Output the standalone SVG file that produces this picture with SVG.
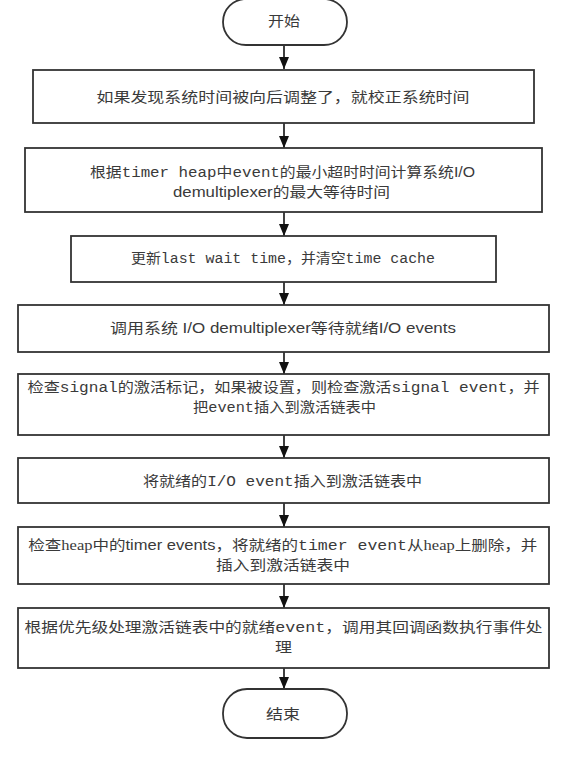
<svg xmlns="http://www.w3.org/2000/svg" width="579" height="758" viewBox="0 0 579 758">
<defs>
<marker id="ah" viewBox="0 0 12 10" refX="12" refY="5" markerWidth="12" markerHeight="10" markerUnits="userSpaceOnUse" orient="auto">
<path d="M0,0 L12,5 L0,10 z" fill="#111"/>
</marker>
</defs>
<style>
.bg{fill:#ffffff}
.box{fill:#ffffff;stroke:#333333;stroke-width:1.8}
.t{font-family:"Liberation Mono","Noto Sans CJK SC",monospace;font-size:14px;fill:#3a3a3a}
.a{font-family:"Liberation Sans","Noto Sans CJK SC",sans-serif}
.s{font-family:"Liberation Serif","Noto Sans CJK SC",serif}
.c{stroke:#111;stroke-width:1.6;fill:none;marker-end:url(#ah)}
</style>
<rect class="bg" x="0" y="0" width="579" height="758"/>
<g id="connectors">
<line class="c" x1="284" y1="45" x2="284" y2="69"/>
<line class="c" x1="284" y1="123" x2="284" y2="148"/>
<line class="c" x1="284" y1="212" x2="284" y2="236"/>
<line class="c" x1="284" y1="282" x2="284" y2="305"/>
<line class="c" x1="284" y1="352" x2="284" y2="374"/>
<line class="c" x1="284" y1="435" x2="284" y2="458"/>
<line class="c" x1="284" y1="503" x2="284" y2="527"/>
<line class="c" x1="284" y1="584" x2="284" y2="608"/>
<line class="c" x1="284" y1="668" x2="284" y2="689"/>
</g>
<g id="start">
<rect class="box" x="223" y="-1" width="124" height="46" rx="23" ry="23"/>
<text class="t" x="268" y="26" textLength="32" lengthAdjust="spacingAndGlyphs">开始</text>
</g>
<g id="n1">
<rect class="box" x="33" y="70" width="501" height="53"/>
<text class="t" x="96.5" y="102" textLength="373" lengthAdjust="spacingAndGlyphs">如果发现系统时间被向后调整了，就校正系统时间</text>
</g>
<g id="n2">
<rect class="box" x="25" y="148" width="517" height="64"/>
<text class="t" x="90" y="177" textLength="385" lengthAdjust="spacingAndGlyphs">根据timer heap中event的最小超时时间计算系统<tspan class="a">I/O</tspan></text>
<text class="t" x="173" y="197" textLength="217" lengthAdjust="spacingAndGlyphs"><tspan class="a">demultiplexer</tspan>的最大等待时间</text>
</g>
<g id="n3">
<rect class="box" x="71" y="236" width="425" height="46"/>
<text class="t" x="131" y="263" textLength="304" lengthAdjust="spacingAndGlyphs">更新last wait time，并清空time cache</text>
</g>
<g id="n4">
<rect class="box" x="18" y="305" width="531" height="47"/>
<text class="t a" x="110" y="333" textLength="346" lengthAdjust="spacingAndGlyphs">调用系统 I/O demultiplexer等待就绪I/O events</text>
</g>
<g id="n5">
<rect class="box" x="18" y="374" width="531" height="61"/>
<text class="t" x="27.6" y="392" textLength="512" lengthAdjust="spacingAndGlyphs">检查signal的激活标记，如果被设置，则检查激活signal event，并</text>
<text class="t" x="193" y="412" textLength="183" lengthAdjust="spacingAndGlyphs">把event插入到激活链表中</text>
</g>
<g id="n6">
<rect class="box" x="18" y="458" width="531" height="45"/>
<text class="t" x="143" y="486" textLength="279" lengthAdjust="spacingAndGlyphs">将就绪的I/O event插入到激活链表中</text>
</g>
<g id="n7">
<rect class="box" x="18" y="527" width="531" height="57"/>
<text class="t" x="28.3" y="550" textLength="509" lengthAdjust="spacingAndGlyphs"><tspan class="s">检查heap中的</tspan><tspan class="a">timer events</tspan>，将就绪的timer event从<tspan class="s">heap</tspan>上删除，并</text>
<text class="t" x="216" y="570" textLength="134" lengthAdjust="spacingAndGlyphs">插入到激活链表中</text>
</g>
<g id="n8">
<rect class="box" x="18" y="608" width="531" height="60"/>
<text class="t" x="24.6" y="632" textLength="518" lengthAdjust="spacingAndGlyphs">根据优先级处理激活链表中的就绪event，调用其回调函数执行事件处</text>
<text class="t" x="275" y="652" textLength="17" lengthAdjust="spacingAndGlyphs">理</text>
</g>
<g id="end">
<rect class="box" x="223" y="689" width="124" height="49" rx="24" ry="24"/>
<text class="t" x="266" y="719" textLength="34" lengthAdjust="spacingAndGlyphs">结束</text>
</g>
</svg>
